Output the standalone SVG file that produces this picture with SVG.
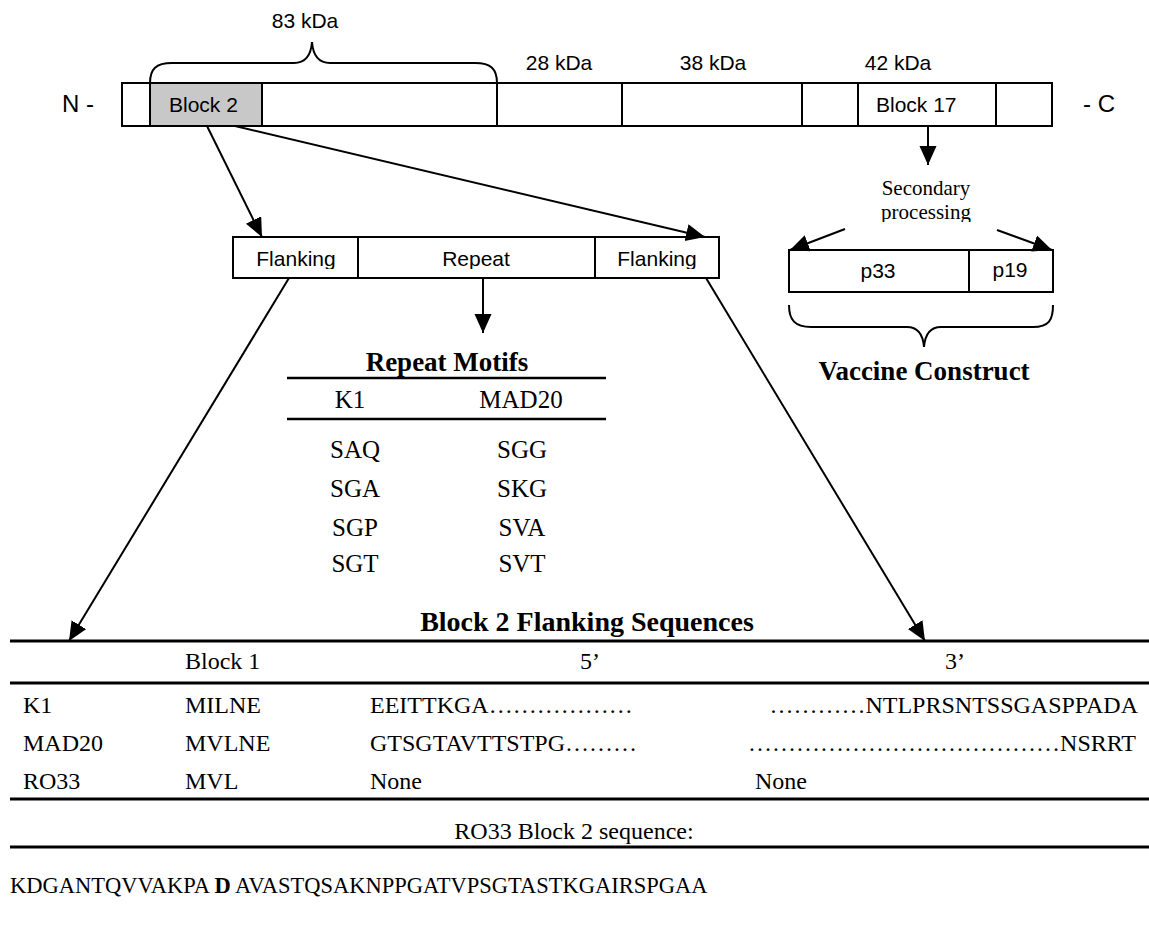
<svg xmlns="http://www.w3.org/2000/svg" width="1149" height="938" viewBox="0 0 1149 938">
<style>
.box{fill:#fff;stroke:#000;stroke-width:2}
.sh{fill:#c8c8c8;stroke:#000;stroke-width:2}
.ln{stroke:#000;stroke-width:2;fill:none}
.tl{stroke:#000;stroke-width:3;fill:none}
.ml{stroke:#000;stroke-width:2.5;fill:none}
.br{stroke:#000;stroke-width:2;fill:none}
.a{font-family:"Liberation Sans",Arial,sans-serif;font-size:21px;fill:#000}
.nc{font-family:"Liberation Sans",Arial,sans-serif;font-size:24px;fill:#000}
.m{font-family:"Liberation Serif","Times New Roman",serif;font-size:25px;fill:#000}
.t{font-family:"Liberation Serif","Times New Roman",serif;font-size:24px;fill:#000}
.tb{font-family:"Liberation Serif","Times New Roman",serif;font-size:27px;font-weight:bold;fill:#000}
.ts{font-family:"Liberation Serif","Times New Roman",serif;font-size:21px;fill:#000}
.c{text-anchor:middle}
</style>
<defs>
<marker id="ah" markerUnits="userSpaceOnUse" markerWidth="20" markerHeight="18" refX="19" refY="8.5" orient="auto">
<path d="M0,0 L19,8.5 L0,17 z" fill="#000"/>
</marker>
<clipPath id="cf"><rect x="233" y="238" width="486" height="31"/></clipPath>
<clipPath id="cs"><rect x="850" y="170" width="160" height="52"/></clipPath>
</defs>

<g id="protein">
<text class="nc" x="62" y="112">N -</text>
<rect class="box" x="122" y="83" width="930" height="43"/>
<rect class="sh" x="150" y="83" width="112" height="43"/>
<line class="ln" x1="497" y1="83" x2="497" y2="126"/>
<line class="ln" x1="622" y1="83" x2="622" y2="126"/>
<line class="ln" x1="802" y1="83" x2="802" y2="126"/>
<line class="ln" x1="858" y1="83" x2="858" y2="126"/>
<line class="ln" x1="996" y1="83" x2="996" y2="126"/>
<text class="a" x="169" y="112">Block 2</text>
<text class="a" x="876" y="112">Block 17</text>
<text class="nc" x="1083" y="112">- C</text>
</g>

<g id="kda-labels">
<path class="br" d="M150,83 C150,69 156,63 172,63 L294,63 C306,63 311,55 312,42 C313,55 318,63 330,63 L475,63 C491,63 497,69 497,83"/>
<text class="a c" x="305" y="28">83 kDa</text>
<text class="a c" x="559" y="70">28 kDa</text>
<text class="a c" x="713" y="70">38 kDa</text>
<text class="a c" x="898" y="70">42 kDa</text>
</g>

<g id="block2-parts">
<rect class="box" x="233" y="237" width="486" height="41"/>
<line class="ln" x1="358" y1="237" x2="358" y2="278"/>
<line class="ln" x1="595" y1="237" x2="595" y2="278"/>
<g clip-path="url(#cf)">
<text class="a c" x="296" y="266">Flanking</text>
<text class="a c" x="476" y="266">Repeat</text>
<text class="a c" x="657" y="266">Flanking</text>
</g>
</g>

<g id="secondary">
<g clip-path="url(#cs)">
<text class="ts c" x="926" y="195">Secondary</text>
<text class="ts c" x="926" y="219">processing</text>
</g>
</g>

<g id="vaccine">
<rect class="box" x="789" y="250" width="264" height="42"/>
<line class="ln" x1="969" y1="250" x2="969" y2="292"/>
<text class="a c" x="878" y="278">p33</text>
<text class="a c" x="1010" y="277">p19</text>
<path class="br" d="M789,305 C789,320 795,327 811,327 L907,327 C918,327 923,335 924,347 C925,335 930,327 941,327 L1033,327 C1049,327 1053,320 1053,305"/>
<text class="tb c" x="924" y="380">Vaccine Construct</text>
</g>

<g id="repeat-motifs">
<text class="tb c" x="447" y="371">Repeat Motifs</text>
<line class="ml" x1="287" y1="378" x2="606" y2="378"/>
<text class="m c" x="350" y="408">K1</text>
<text class="m c" x="521" y="408">MAD20</text>
<line class="ml" x1="287" y1="419" x2="606" y2="419"/>
<text class="m c" x="355" y="458">SAQ</text><text class="m c" x="522" y="458">SGG</text>
<text class="m c" x="355" y="497">SGA</text><text class="m c" x="522" y="497">SKG</text>
<text class="m c" x="355" y="536">SGP</text><text class="m c" x="522" y="536">SVA</text>
<text class="m c" x="355" y="572">SGT</text><text class="m c" x="522" y="572">SVT</text>
</g>

<g id="flanking-table">
<text class="tb c" x="587" y="631" style="font-size:28px">Block 2 Flanking Sequences</text>
<line class="tl" x1="10" y1="641" x2="1149" y2="641"/>
<text class="t" x="185" y="669">Block 1</text>
<text class="t" x="580" y="669">5’</text>
<text class="t" x="945" y="669">3’</text>
<line class="tl" x1="10" y1="683" x2="1149" y2="683"/>
<text class="t" x="23" y="713">K1</text>
<text class="t" x="185" y="713">MILNE</text>
<text class="t" x="370" y="713">EEITTKGA………………</text>
<text class="t" x="1138" y="713" text-anchor="end">…………NTLPRSNTSSGASPPADA</text>
<text class="t" x="23" y="751">MAD20</text>
<text class="t" x="185" y="751">MVLNE</text>
<text class="t" x="370" y="751">GTSGTAVTTSTPG………</text>
<text class="t" x="1136" y="751" text-anchor="end">…………………………………NSRRT</text>
<text class="t" x="23" y="789">RO33</text>
<text class="t" x="185" y="789">MVL</text>
<text class="t" x="370" y="789">None</text>
<text class="t" x="755" y="789">None</text>
<line class="tl" x1="10" y1="799" x2="1149" y2="799"/>
<text class="t c" x="574" y="839">RO33 Block 2 sequence:</text>
<line class="tl" x1="10" y1="847" x2="1149" y2="847"/>
<text class="t" x="10" y="893" style="font-size:22.5px">KDGANTQVVAKPA <tspan font-weight="bold">D</tspan> AVASTQSAKNPPGATVPSGTASTKGAIRSPGAA</text>
</g>

<g id="connectors">
<line class="ln" x1="207" y1="126" x2="262" y2="237" marker-end="url(#ah)"/>
<line class="ln" x1="235" y1="126" x2="705" y2="237" marker-end="url(#ah)"/>
<line class="ln" x1="928" y1="126" x2="928" y2="165" marker-end="url(#ah)"/>
<line class="ln" x1="845" y1="229" x2="790" y2="250" marker-end="url(#ah)"/>
<line class="ln" x1="997" y1="230" x2="1052" y2="250" marker-end="url(#ah)"/>
<line class="ln" x1="483" y1="278" x2="483" y2="333" marker-end="url(#ah)"/>
<line class="ln" x1="289" y1="278" x2="69" y2="641" marker-end="url(#ah)"/>
<line class="ln" x1="706" y1="278" x2="925" y2="641" marker-end="url(#ah)"/>
</g>
</svg>
